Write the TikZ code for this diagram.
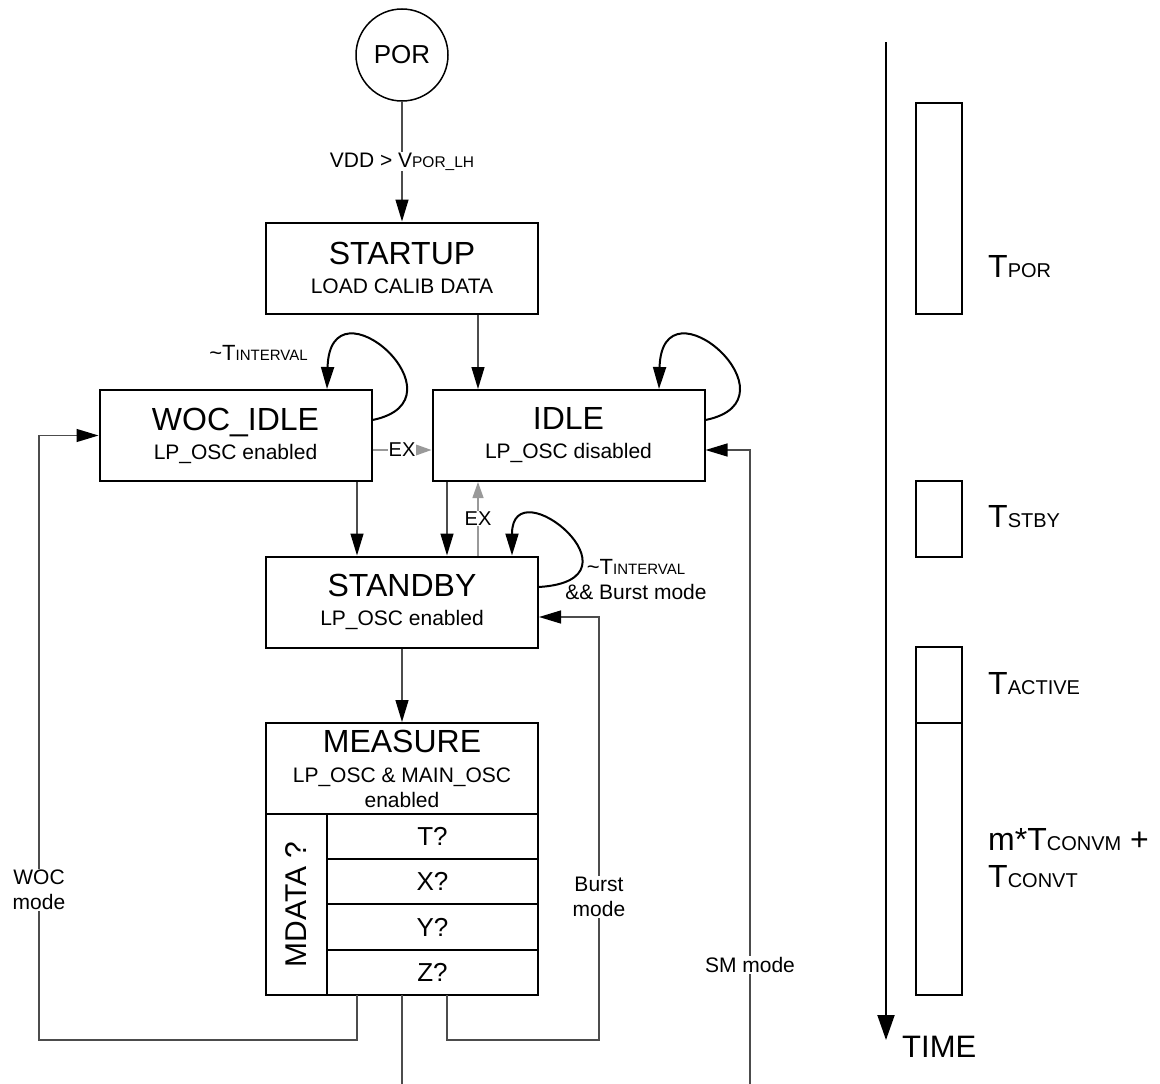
\documentclass[tikz,border=0pt]{standalone}
\usepackage{fontspec}
\setmainfont{Liberation Sans}
\usetikzlibrary{arrows.meta}
\usetikzlibrary{positioning}

\newcommand{\stname}[1]{{\fontsize{32}{32}\selectfont #1}}
\newcommand{\lowpart}[2]{{\fontsize{#1}{#1}\selectfont #2}}

\begin{document}
\begin{tikzpicture}[x=1pt, y=-1pt,
	state/.style = {draw, line width=2pt, minimum width=272pt, minimum height=91pt,
		inner sep=0pt, align=center, font=\fontsize{21}{29}\selectfont},
	cell/.style = {draw, line width=2pt, minimum width=211pt, minimum height=45.25pt,
		inner sep=0pt, outer sep=0pt, font=\fontsize{26}{26}\selectfont},
	tbar/.style = {draw, line width=2pt, minimum width=46pt, inner sep=0pt, outer sep=0pt},
	tlabel/.style = {anchor=west, inner sep=0pt, align=left, font=\fontsize{32}{37}\selectfont},
	lbl/.style = {fill=white, inner sep=1pt, align=center, font=\fontsize{21}{25}\selectfont},
	wire/.style = {line width=1.3pt, draw=black!70},
	link/.style = {wire, -{Triangle[length=22pt, width=13pt, color=black]}},
	exlink/.style = {line width=1.3pt, draw=black!40, -{Triangle[length=16pt, width=11pt]}},
	loopy/.style = {line width=2pt, -{Triangle[length=22pt, width=13pt]}}]
\useasboundingbox (0,0) rectangle (1160,1084);

\node[circle, draw, line width=1.5pt, minimum size=92pt, inner sep=0pt,
	font=\fontsize{26}{26}\selectfont] (por) at (402,55) {POR};
\node[state] (startup) at (402,268) {\stname{STARTUP}\\LOAD CALIB DATA};
\node[state] (wocidle) at (235.5,435.5) {\stname{WOC\_IDLE}\\LP\_OSC enabled};
\node[state] (idle) at (568.5,435.5) {\stname{IDLE}\\LP\_OSC disabled};
\node[state] (standby) at (402,602) {\stname{STANDBY}\\LP\_OSC enabled};
\node[state, font=\fontsize{21}{25}\selectfont] (measure) at (402,768.5)
	{\stname{MEASURE}\\[5pt]LP\_OSC \& MAIN\_OSC\\enabled};
\node[draw, line width=2pt, rotate=90, minimum width=181pt, minimum height=61pt,
	inner sep=0pt, font=\fontsize{30}{30}\selectfont] (mdata) at (296.5,904.5) {MDATA ?};
\node[cell] (tq) at (432.5,836.6) {T?};
\node[cell, below=0pt of tq] (xq) {X?};
\node[cell, below=0pt of xq] (yq) {Y?};
\node[cell, below=0pt of yq] (zq) {Z?};

\coordinate (lanel) at ([xshift=-45pt]standby.south);
\coordinate (laner) at ([xshift=45pt]standby.south);
\coordinate (lanee) at ([xshift=76pt]startup.south);
\coordinate (wocbend) at (39,1040);
\coordinate (burstbend) at (599,1040);
\coordinate (burstin) at ([yshift=-15pt]standby.east);
\coordinate (smin) at ([yshift=-14.5pt]idle.east);
\coordinate (smstart) at (750,1084);
\coordinate (measureend) at (402,1084);

\draw[link] (por) -- node[lbl] {VDD > V\lowpart{15.5}{POR\_LH}} (startup);
\draw[link] (startup.south -| lanee) -- (idle.north -| lanee);
\draw[link] (wocidle.south -| lanel) -- (standby.north -| lanel);
\draw[link] (idle.south -| laner) -- (standby.north -| laner);
\draw[exlink] (standby.north -| lanee) -- node[lbl, inner sep=0.5pt, font=\fontsize{20}{20}\selectfont] {EX} (idle.south -| lanee);
\draw[exlink] ([yshift=-14.5pt]wocidle.east) -- node[lbl, inner sep=0.5pt, font=\fontsize{20}{20}\selectfont] {EX} ([yshift=-14.5pt]idle.west);
\draw[link] (standby) -- (measure);

\draw[loopy] ([yshift=15.5pt]wocidle.east) .. controls +(98,-20) and +(3,-115) .. ([xshift=91.5pt]wocidle.north);
\draw[loopy] ([yshift=15.5pt]idle.east) .. controls +(98,-20) and +(3,-115) .. ([xshift=90.5pt]idle.north);
\draw[loopy] ([yshift=15pt]standby.east) .. controls +(112,-7) and +(0,-90) .. ([xshift=110pt]standby.north);
\node[inner sep=0pt, font=\fontsize{22}{22}\selectfont] (wocwait) at (258.5,353)
	{\textasciitilde T\lowpart{15}{INTERVAL}};
\node[inner sep=0pt, align=center, font=\fontsize{21}{25}\selectfont] (sbywait) at (636,580)
	{{\fontsize{22}{25}\selectfont\textasciitilde T}\lowpart{15}{INTERVAL}\\\&\& Burst mode};

\draw[link] (zq.south -| lanel) |- (wocbend) -- node[lbl, pos=0.248] {WOC\\mode}
	(wocbend |- wocidle.west) -- (wocidle.west);
\draw[link] (zq.south -| laner) |- (burstbend) -- node[lbl, pos=0.338] {Burst\\mode}
	(burstbend |- burstin) -- (burstin);
\draw[wire] (zq.south -| standby.south) -- (measureend);
\draw[link] (smstart) -- node[lbl, pos=0.188] {SM mode} (smstart |- smin) -- (smin);

\coordinate (ttop) at (886,42);
\coordinate (tend) at (886,1040);
\draw[line width=2pt, -{Triangle[length=25pt, width=17pt]}] (ttop) -- (tend);
\node[anchor=west, inner sep=0pt, font=\fontsize{31}{31}\selectfont] (timelbl) at (902,1047) {TIME};
\node[tbar, minimum height=211pt] (tpor) at (939,208.5) {};
\node[tbar, minimum height=76pt] (tstby) at (939,519) {};
\node[tbar, minimum height=76pt] (tactive) at (939,685) {};
\node[tbar, minimum height=272pt, below=0pt of tactive] (tconv) {};
\node[tlabel] (tporlbl) at (988,267) {T\lowpart{20}{POR}};
\node[tlabel] (tstbylbl) at (988,517) {T\lowpart{20}{STBY}};
\node[tlabel] (tactivelbl) at (988,684) {T\lowpart{20}{ACTIVE}};
\node[tlabel] (tconvlbl) at (988,858.5) {m*T\lowpart{20}{CONVM} +\\T\lowpart{20}{CONVT}};
\end{tikzpicture}
\end{document}
